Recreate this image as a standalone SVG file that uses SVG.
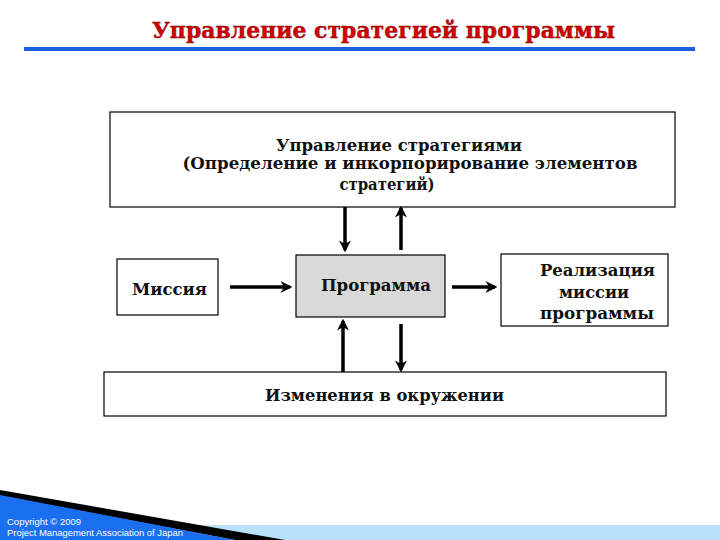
<svg xmlns="http://www.w3.org/2000/svg" width="720" height="540" viewBox="0 0 720 540">
<defs>
<style>
.box{fill:#fff;stroke:#000;stroke-width:1.2}
.t{font-family:"DejaVu Serif","Liberation Serif",serif;font-weight:bold;font-size:16px;fill:#111;text-anchor:middle}
.c{stroke:#000;stroke-width:3.5;fill:none}
.foot{font-family:"Liberation Sans",Arial,sans-serif;font-size:9.5px;fill:#fff}
</style>
<marker id="ah" viewBox="0 0 10 10" refX="8" refY="5" markerWidth="3.4" markerHeight="3.4" orient="auto" markerUnits="strokeWidth">
<path d="M0,0 L10,5 L0,10 L3,5 Z" fill="#000"/>
</marker>
</defs>
<rect width="720" height="540" fill="#fff"/>
<g id="title">
<text x="383.5" y="38" text-anchor="middle" font-family="DejaVu Serif,Liberation Serif,serif" font-weight="bold" font-size="22" fill="#d40000" stroke="#7a0000" stroke-width="0.4" textLength="463" lengthAdjust="spacingAndGlyphs">Управление стратегией программы</text>
<rect x="24" y="47" width="671" height="4" fill="#1a5fe0"/>
</g>
<g id="strategy">
<rect class="box" x="110" y="112" width="565" height="95"/>
<text class="t" x="399" y="151" textLength="246" lengthAdjust="spacingAndGlyphs">Управление стратегиями</text>
<text class="t" x="410" y="169" textLength="455" lengthAdjust="spacingAndGlyphs">(Определение и инкорпорирование элементов</text>
<text class="t" x="387" y="190" textLength="95" lengthAdjust="spacingAndGlyphs">стратегий)</text>
</g>
<g id="mission">
<rect class="box" x="117" y="259" width="101" height="56"/>
<text class="t" x="169.5" y="295" textLength="75" lengthAdjust="spacingAndGlyphs">Миссия</text>
</g>
<g id="program">
<rect x="296" y="255" width="149" height="62" fill="#d9d9d9" stroke="#000" stroke-width="1.2"/>
<text class="t" x="376" y="291" textLength="110" lengthAdjust="spacingAndGlyphs">Программа</text>
</g>
<g id="realization">
<rect class="box" x="501" y="254" width="167" height="72"/>
<text class="t" x="597.5" y="276" textLength="115" lengthAdjust="spacingAndGlyphs">Реализация</text>
<text class="t" x="594" y="298" textLength="70" lengthAdjust="spacingAndGlyphs">миссии</text>
<text class="t" x="597" y="319" textLength="114" lengthAdjust="spacingAndGlyphs">программы</text>
</g>
<g id="environment">
<rect class="box" x="104" y="372" width="562" height="44"/>
<text class="t" x="384.5" y="401" textLength="239" lengthAdjust="spacingAndGlyphs">Изменения в окружении</text>
</g>
<g id="connectors">
<line class="c" x1="345" y1="207" x2="345" y2="250" marker-end="url(#ah)"/>
<line class="c" x1="401" y1="250" x2="401" y2="208" marker-end="url(#ah)"/>
<line class="c" x1="230" y1="287" x2="290" y2="287" marker-end="url(#ah)"/>
<line class="c" x1="452" y1="287" x2="495" y2="287" marker-end="url(#ah)"/>
<line class="c" x1="343" y1="372" x2="343" y2="321" marker-end="url(#ah)"/>
<line class="c" x1="401" y1="324" x2="401" y2="370" marker-end="url(#ah)"/>
</g>
<g id="footer">
<rect x="0" y="525" width="720" height="15" fill="#b8e2fa"/>
<polygon points="0,490 285,540 235,540 0,496" fill="#000"/>
<polygon points="0,495 235,540 0,540" fill="#1a6ef0"/>
<text class="foot" x="7" y="525">Copyright © 2009</text>
<text class="foot" x="7" y="536" textLength="176" lengthAdjust="spacingAndGlyphs">Project Management Association of Japan</text>
</g>
</svg>
